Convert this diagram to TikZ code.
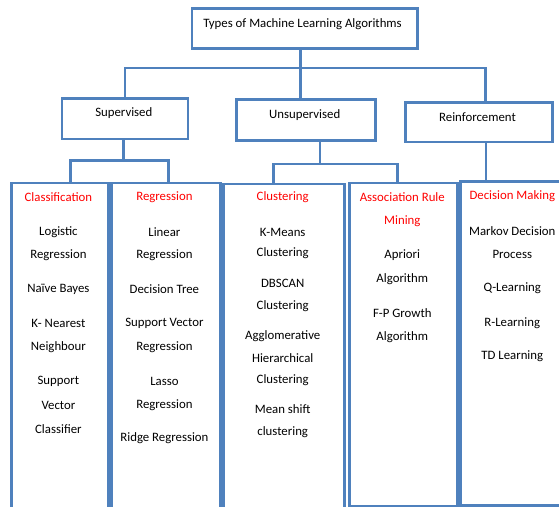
\documentclass[tikz,border=0pt]{standalone}
\usepackage{fontspec}
\setmainfont{Carlito}
\definecolor{lineblue}{RGB}{79,129,189}
\definecolor{hdrred}{RGB}{255,0,0}
\begin{document}
\begin{tikzpicture}[x=1pt,y=-1pt,
  box/.style={draw=lineblue,line width=2.7pt,fill=white,inner sep=0pt,anchor=north west},
  conn/.style={draw=lineblue,line width=2.7pt},
  lbl/.style={font=\fontsize{12.8}{15}\selectfont,text=black,inner sep=0pt},
  hdr/.style={lbl,text=hdrred}]
\useasboundingbox (0,0) rectangle (559,506);
\clip (0,0) rectangle (559,506);
% boxes
\node[box,minimum width=225.3pt,minimum height=40pt] (top) at (190.7,7) {};
\node[box,minimum width=126pt,minimum height=40.4pt] (sup) at (60.7,97.3) {};
\node[box,minimum width=139.3pt,minimum height=40.7pt] (uns) at (235,98.3) {};
\node[box,minimum width=147pt,minimum height=39.7pt] (rei) at (404,101) {};
\node[box,minimum width=97pt,minimum height=340pt] (cls) at (10,181.7) {};
\node[box,minimum width=109pt,minimum height=340pt] (reg) at (110,181.7) {};
\node[box,minimum width=121pt,minimum height=340pt] (clu) at (222.3,182.7) {};
\node[box,minimum width=108pt,minimum height=322.8pt] (asc) at (348,181.7) {};
\node[box,minimum width=110pt,minimum height=324pt] (dec) at (459.3,180) {};
% connectors
\coordinate (j0) at (300.7,68);
\coordinate (jl) at (125,68);
\coordinate (jr) at (485.7,68);
\draw[conn] (top.south -| j0) -- (j0);
\draw[conn] (jl |- sup.north) -- (jl) -- (jr) -- (jr |- rei.north);
\draw[conn] (j0) -- (j0 |- uns.north);
\coordinate (sj) at (123.3,160.5);
\coordinate (sl) at (70.7,160.5);
\coordinate (sr) at (168.3,160.5);
\draw[conn] (sup.south -| sj) -- (sj);
\draw[conn] (sl |- cls.north) -- (sl) -- (sr) -- (sr |- reg.north);
\coordinate (uj) at (320,164);
\coordinate (ul) at (273.3,164);
\coordinate (ur) at (397.3,164);
\draw[conn] (uns.south -| uj) -- (uj);
\draw[conn] (ul |- clu.north) -- (ul) -- (ur) -- (ur |- asc.north);
\coordinate (rj) at (486,160);
\draw[conn] (rei.south -| rj) -- (rj |- dec.north);
% top labels
\node[lbl] (ttop) at (302.5,24) {Types of Machine Learning Algorithms};
\node[lbl] (tsup) at (123.8,113.3) {Supervised};
\node[lbl] (tuns) at (304.7,115) {Unsupervised};
\node[lbl] (trei) at (477.5,117.3) {Reinforcement};
% classification
\node[hdr] (hcls) at (58.4,196.7) {Classification};
\node[lbl] at (58.4,231.7) {Logistic};
\node[lbl] at (58.4,255) {Regression};
\node[lbl] at (58.4,289) {Naïve Bayes};
\node[lbl] at (58.4,323.3) {K- Nearest};
\node[lbl] at (58.4,346.7) {Neighbour};
\node[lbl] at (58.4,381.7) {Support};
\node[lbl] at (58.4,405.3) {Vector};
\node[lbl] at (58.4,428.7) {Classifier};
% regression
\node[hdr] (hreg) at (164.4,196.7) {Regression};
\node[lbl] at (164.4,231.7) {Linear};
\node[lbl] at (164.4,255) {Regression};
\node[lbl] at (164.4,289) {Decision Tree};
\node[lbl] at (164.4,323.3) {Support Vector};
\node[lbl] at (164.4,346.7) {Regression};
\node[lbl] at (164.4,381.7) {Lasso};
\node[lbl] at (164.4,405.3) {Regression};
\node[lbl] at (164.4,438.3) {Ridge Regression};
% clustering
\node[hdr] (hclu) at (282.7,197.3) {Clustering};
\node[lbl] at (282.7,232.3) {K-Means};
\node[lbl] at (282.7,253.3) {Clustering};
\node[lbl] at (282.7,283.3) {DBSCAN};
\node[lbl] at (282.7,305.7) {Clustering};
\node[lbl] at (282.7,335.7) {Agglomerative};
\node[lbl] at (282.7,357.7) {Hierarchical};
\node[lbl] at (282.7,380) {Clustering};
\node[lbl] at (282.7,409.3) {Mean shift};
\node[lbl] at (282.7,431.7) {clustering};
% association
\node[hdr] (hasc) at (402.3,196.7) {Association Rule};
\node[hdr] at (402.3,220.7) {Mining};
\node[lbl] at (402.3,255) {Apriori};
\node[lbl] at (402.3,279) {Algorithm};
\node[lbl] at (402.3,313.3) {F-P Growth};
\node[lbl] at (402.3,336.7) {Algorithm};
% decision
\node[hdr] (hdec) at (512.3,196) {Decision Making};
\node[lbl] at (512.3,231) {Markov Decision};
\node[lbl] at (512.3,254.3) {Process};
\node[lbl] at (512.3,288.3) {Q-Learning};
\node[lbl] at (512.3,322.7) {R-Learning};
\node[lbl] at (512.3,356) {TD Learning};
\end{tikzpicture}
\end{document}
